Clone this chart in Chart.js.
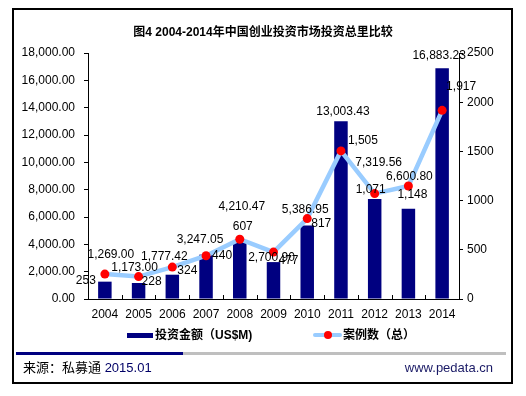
<!DOCTYPE html>
<html>
<head>
<meta charset="utf-8">
<script src="https://cdn.jsdelivr.net/npm/chart.js@4.4.1/dist/chart.umd.min.js"></script>
<style>
  body { margin: 0; background: #fff; font-family: "Liberation Sans", Arial, "Noto Sans CJK SC", sans-serif; }
  #wrap { position: relative; width: 526px; height: 396px; overflow: hidden; }
  #frame { position: absolute; left: 12px; top: 8px; width: 497px; height: 372px; border: 2px solid #000; }
  canvas { position: absolute; left: 0; top: 0; }
  .t { position: absolute; white-space: nowrap; font-size: 12px; line-height: 16px; color: #000; }
  .b { font-weight: bold; font-family: "Liberation Sans", Arial, "Noto Sans CJK SC", sans-serif; }
  .f { font-size: 13px; }
</style>
</head>
<body>
<div id="wrap">
  <div id="frame"></div>
  <canvas id="myChart" width="526" height="396"></canvas>
  <div class="t b" style="left:0;width:526px;text-align:center;top:24px;">图4 2004-2014年中国创业投资市场投资总里比较</div>

  <div style="position:absolute;left:127px;top:333px;width:26px;height:5px;background:#000080;"></div>
  <div class="t b" style="left:155px;top:327px;">投资金额（US$M)</div>
  <div style="position:absolute;left:313px;top:333px;width:29px;height:4px;background:#99ccff;border-radius:2px;"></div>
  <div style="position:absolute;left:324px;top:331px;width:8px;height:8px;background:#ff0000;border-radius:50%;"></div>
  <div class="t b" style="left:343px;top:327px;">案例数（总）</div>

  <div style="position:absolute;left:16px;top:352px;width:167px;height:3px;background:#000080;"></div>
  <div style="position:absolute;left:183px;top:352px;width:323px;height:3px;background:#bfbfbf;"></div>
  <div class="t f" style="left:23px;top:360px;">来源：私募通 <span style="color:#000066;">2015.01</span></div>
  <div class="t f" style="right:33px;top:360px;color:#1a1a66;">www.pedata.cn</div>
</div>
<script>
const years = ["2004", "2005", "2006", "2007", "2008", "2009", "2010", "2011", "2012", "2013", "2014"];
const investAmount = [1269.00, 1173.00, 1777.42, 3247.05, 4210.47, 2700.90, 5386.95, 13003.43, 7319.56, 6600.80, 16883.23];
const caseCount = [253, 228, 324, 440, 607, 477, 817, 1505, 1071, 1148, 1917];

// where each value label sits relative to its mark (dx, dy)
const barLabelShift = [[6, -27], [-4, -15], [-8, -18], [-6, -15], [2, -35], [-2, -4], [-2, -16], [2, -10], [4, -36], [1, -32], [-3, -13]];
const pointLabelShift = [[-19, 7], [13, 5], [15, 4], [16, 0], [3, -13], [15, 9], [14, 5], [22, -10], [-4, -4], [4, 9], [19, -24]];

const fmtMoney = (v) => v.toLocaleString("en-US", { minimumFractionDigits: 2, maximumFractionDigits: 2 });
const fmtCount = (v) => v.toLocaleString("en-US");

const valueLabels = {
  id: "valueLabels",
  afterDatasetsDraw(chart) {
    const ctx = chart.ctx;
    ctx.save();
    ctx.font = "12px 'Liberation Sans', Arial, sans-serif";
    ctx.fillStyle = "#000";
    ctx.textAlign = "center";
    ctx.textBaseline = "middle";
    chart.getDatasetMeta(1).data.forEach((bar, i) => {
      const s = barLabelShift[i];
      ctx.fillText(fmtMoney(investAmount[i]), bar.x + s[0], bar.y + s[1]);
    });
    chart.getDatasetMeta(0).data.forEach((pt, i) => {
      const s = pointLabelShift[i];
      ctx.fillText(fmtCount(caseCount[i]), pt.x + s[0], pt.y + s[1]);
    });
    ctx.restore();
  },
};

// small inward tick marks between categories on the x axis
const innerTicks = {
  id: "innerTicks",
  afterDraw(chart) {
    const x = chart.scales.x;
    const ctx = chart.ctx;
    const step = x.width / years.length;
    ctx.save();
    ctx.strokeStyle = "#000";
    ctx.lineWidth = 1;
    ctx.beginPath();
    for (let i = 1; i < years.length; i++) {
      const px = Math.round(x.left + step * i) + 0.5;
      ctx.moveTo(px, x.top);
      ctx.lineTo(px, x.top - 4);
    }
    ctx.stroke();
    ctx.restore();
  },
};

new Chart(document.getElementById("myChart"), {
  type: "bar",
  data: {
    labels: years,
    datasets: [
      {
        type: "line",
        label: "案例数（总）",
        data: caseCount,
        yAxisID: "y2",
        order: 0,
        borderColor: "#99ccff",
        borderWidth: 4.5,
        tension: 0,
        pointRadius: 4.5,
        pointBackgroundColor: "#ff0000",
        pointBorderWidth: 0,
      },
      {
        label: "投资金额（US$M)",
        data: investAmount,
        yAxisID: "y",
        order: 1,
        backgroundColor: "#000080",
        barPercentage: 0.4,
        categoryPercentage: 1,
      },
    ],
  },
  options: {
    responsive: false,
    animation: false,
    devicePixelRatio: 1,
    layout: { padding: { left: 12, right: 12, top: 53, bottom: 77 } },
    plugins: { legend: { display: false }, tooltip: { enabled: false } },
    scales: {
      x: {
        grid: { display: false, drawTicks: false },
        border: { color: "#000", width: 1 },
        ticks: { color: "#000", font: { size: 12, family: "'Liberation Sans', Arial" }, padding: 8, maxRotation: 0 },
        afterFit: (s) => { s.height = 20; },
      },
      y: {
        position: "left",
        min: 0,
        max: 18000,
        grid: { drawOnChartArea: false, drawTicks: true, tickLength: 4, color: "#000" },
        border: { color: "#000", width: 1 },
        ticks: { stepSize: 2000, color: "#000", padding: 9, font: { size: 12, family: "'Liberation Sans', Arial" }, callback: (v) => fmtMoney(v) },
        afterFit: (s) => { s.width = 76; },
      },
      y2: {
        position: "right",
        min: 0,
        max: 2500,
        grid: { drawOnChartArea: false, drawTicks: true, tickLength: 4, color: "#000" },
        border: { color: "#000", width: 1 },
        ticks: { stepSize: 500, color: "#000", padding: 4, font: { size: 12, family: "'Liberation Sans', Arial" }, callback: (v) => String(v) },
        afterFit: (s) => { s.width = 55; },
      },
    },
  },
  plugins: [valueLabels, innerTicks],
});
</script>
</body>
</html>
